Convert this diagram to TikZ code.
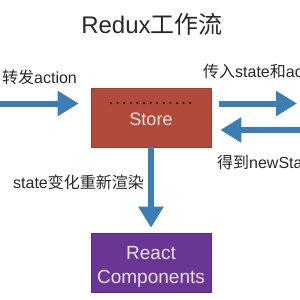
\documentclass[tikz,border=0pt]{standalone}
\usepackage{fontspec}
\setmainfont{Liberation Sans}
\newfontfamily\cjk{Noto Sans CJK SC}
\usetikzlibrary{arrows.meta}
\definecolor{arrowblue}{RGB}{58,126,181}
\definecolor{storered}{RGB}{178,74,58}
\definecolor{reactpurple}{RGB}{106,54,150}
\definecolor{labelgray}{RGB}{40,40,40}
\definecolor{storetext}{RGB}{244,226,216}
\definecolor{reacttext}{RGB}{234,224,240}
\definecolor{dotcol}{RGB}{45,22,20}
\begin{document}
\begin{tikzpicture}[x=1bp,y=-1bp,
  flow/.style={draw=arrowblue, line width=6bp, -{Triangle[width=24bp,length=21bp]}},
  box/.style={minimum width=120bp, minimum height=59bp, inner sep=0pt, align=center, line width=0.6bp},
  lbl/.style={text=labelgray, inner sep=0pt, anchor=west, font=\fontsize{16bp}{19bp}\selectfont}]
\useasboundingbox (0,0) rectangle (300,300);
\fill[white] (0,0) rectangle (300,300);
\clip (0,0) rectangle (300,300);
\node[font=\fontsize{24bp}{28bp}\selectfont, text=labelgray] (title) at (152,24) {Redux{\cjk 工作流}};
\node[box, fill=storered, draw=storered!85!black, text=storetext, font=\fontsize{18bp}{22bp}\selectfont, text depth=0pt] (store) at (151,117.5) {\raisebox{-4bp}{Store}};
\node[box, fill=reactpurple, draw=reactpurple!85!black] (react) at (151,262.5) {};
\node[text=reacttext, font=\fontsize{19bp}{24bp}\selectfont, align=center, inner sep=0pt] (reactlbl) at (151,267) {React\\Components};
\foreach \i in {0,...,12} \fill[dotcol] (111+\i*6.6,103) circle (1.25bp);
\coordinate (src) at (0,103.5);
\coordinate (out) at (297,103.5);
\coordinate (back) at (310,130);
\draw[flow, shorten >=12bp] (src) -- (src -| store.west);
\draw[flow, shorten <=8bp] (store.east |- out) -- (out);
\draw[flow, shorten >=9bp] (back) -- (back -| store.east);
\draw[flow, shorten >=5bp] (store.south) -- (react.north);
\node[lbl] (l1) at (2,77) {{\cjk 转发}action};
\node[lbl] (l2) at (203,71) {{\cjk 传入}state{\cjk 和}action};
\node[lbl] (l3) at (217,162) {{\cjk 得到}newState};
\node[lbl] (l4) at (13,182) {state{\cjk 变化重新渲染}};
\end{tikzpicture}
\end{document}
